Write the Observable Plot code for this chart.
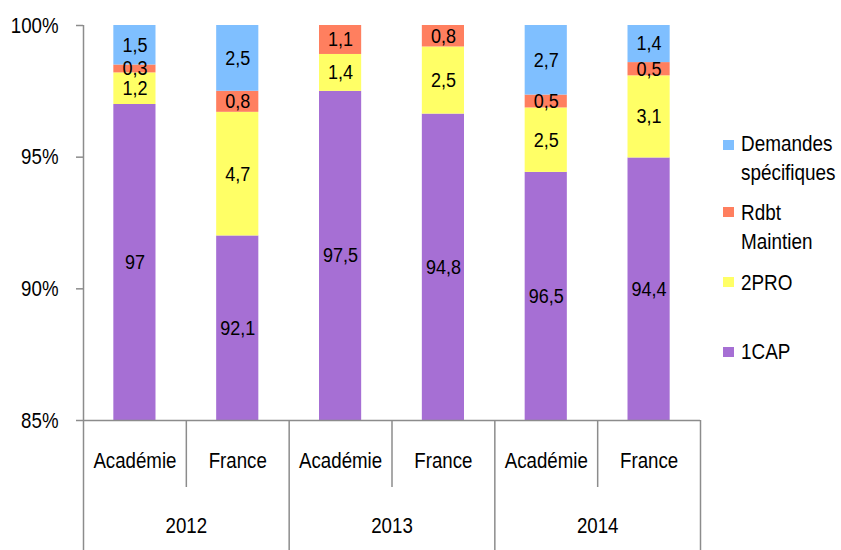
<!DOCTYPE html>
<html><head><meta charset="utf-8">
<script src="https://cdn.jsdelivr.net/npm/d3@7"></script>
<script src="https://cdn.jsdelivr.net/npm/@observablehq/plot@0.6"></script>
<style>
body{margin:0;background:#fff;font-family:"Liberation Sans",Arial,sans-serif;}
#wrap{position:relative;width:841px;height:550px;overflow:hidden;}
.lg{position:absolute;font-size:22.5px;line-height:29px;color:#000;white-space:nowrap;transform:scaleX(0.84);transform-origin:0 0;}
.sw{position:absolute;width:11px;height:10px;}
</style></head><body><div id="wrap"></div>
<script>
// ---- data ----
const years = ["2012", "2013", "2014"];
const places = ["Académie", "France"];
const series = ["1CAP", "2PRO", "Rdbt Maintien", "Demandes spécifiques"];
const legendLabels = ["Demandes<br>spécifiques", "Rdbt<br>Maintien", "2PRO", "1CAP"];
const colors = ["#A66FD4", "#FFFF66", "#FF7F5F", "#7FBFFF"];
// values per bar: 2012 Académie, 2012 France, 2013 Académie, 2013 France, 2014 Académie, 2014 France
const cap  = [97, 92.1, 97.5, 94.8, 96.5, 94.4];
const pro  = [1.2, 4.7, 1.4, 2.5, 2.5, 3.1];
const rdbt = [0.3, 0.8, 1.1, 0.8, 0.5, 0.5];
const dem  = [1.5, 2.5, 0, 0, 2.7, 1.4];
const yTicks = [0.85, 0.90, 0.95, 1.00];

// ---- layout ----
const W = 841, H = 550, mL = 83, mR = 141, mT = 25, mB = 130;
const yMin = 0.85, yMax = 1;
const pxToY = px => yMax - (px - mT) / (H - mT - mB) * (yMax - yMin);
const pxToX = px => (px - mL) / (W - mL - mR) * 6;
const fmt = v => String(v).replace(".", ",");
const FS = 22.5, FSL = 20;

// ---- build tables (100% stacked) ----
const seriesVals = [cap, pro, rdbt, dem];
const bars = [];
const segments = [];
years.forEach((yr, yi) => places.forEach((pl, pi) => {
  const i = yi * 2 + pi;
  bars.push({i, year: yr, place: pl});
  const total = d3.sum(seriesVals, s => s[i]);
  let c = 0;
  seriesVals.forEach((s, si) => {
    const v = s[i];
    if (v > 0) {
      segments.push({i, series: series[si], value: v, y1: c / total, y2: (c + v) / total});
    }
    c += v;
  });
}));

const grey = "#8c8c8c";
const plot = Plot.plot({
  width: W, height: H,
  marginLeft: mL, marginRight: mR, marginTop: mT, marginBottom: mB,
  style: {fontFamily: "'Liberation Sans', Arial, sans-serif", fontSize: FS + "px", background: "#fff", color: "#000"},
  x: {domain: [0, 6], axis: null},
  y: {domain: [yMin, yMax], axis: null},
  color: {domain: series, range: colors},
  marks: [
    Plot.rect(segments, {x1: d => d.i + 0.295, x2: d => d.i + 0.705, y1: "y1", y2: "y2", fill: "series", clip: true}),
    Plot.text(segments, {
      x: d => d.i + 0.5,
      y: d => (Math.max(d.y1, yMin) + d.y2) / 2,
      text: d => fmt(d.value), fontSize: FSL, fill: "#000"
    }),
    // y axis
    Plot.ruleX([0], {y1: yMin, y2: yMax, stroke: grey, strokeWidth: 1.5}),
    Plot.ruleY(yTicks, {x1: pxToX(76), x2: 0, stroke: grey, strokeWidth: 1.5}),
    Plot.text(yTicks, {x: 0, y: d => d, text: d => d3.format(".0%")(d), textAnchor: "end", dx: -25, fontSize: FS, fill: "#000"}),
    // x axis table
    Plot.ruleY([yMin], {x1: 0, x2: 6, stroke: grey, strokeWidth: 1.5}),
    Plot.ruleX([1, 3, 5], {y1: yMin, y2: pxToY(487), stroke: grey, strokeWidth: 1.5}),
    Plot.ruleX([0, 2, 4, 6], {y1: yMin, y2: pxToY(551), stroke: grey, strokeWidth: 1.5}),
    Plot.text(bars, {x: d => d.i + 0.5, y: pxToY(460), text: "place", fontSize: FS, fill: "#000"}),
    Plot.text(years, {x: (d, j) => 2 * j + 1, y: pxToY(525), text: d => d, fontSize: FS, fill: "#000"})
  ]
});
const wrap = document.getElementById("wrap");
wrap.appendChild(plot);

// condense the Arial-like glyphs horizontally, as in the reference
plot.querySelectorAll("text").forEach(t => {
  const len = t.getComputedTextLength();
  if (!len) return;
  const fs = parseFloat(getComputedStyle(t).fontSize);
  const k = fs < 21 ? 0.9 : 0.83;
  t.setAttribute("textLength", (len * k).toFixed(2));
  t.setAttribute("lengthAdjust", "spacingAndGlyphs");
});

// legend
const legendPos = [
  {sq: 140, tx: 129},
  {sq: 207, tx: 198},
  {sq: 277, tx: 268},
  {sq: 347, tx: 337}
];
legendLabels.forEach((lab, k) => {
  const col = colors[3 - k];
  const sw = document.createElement("div");
  sw.className = "sw";
  sw.style.left = "723px"; sw.style.top = legendPos[k].sq + "px"; sw.style.background = col;
  wrap.appendChild(sw);
  const t = document.createElement("div");
  t.className = "lg";
  t.style.left = "741px"; t.style.top = legendPos[k].tx + "px";
  t.innerHTML = lab;
  wrap.appendChild(t);
});
</script></body></html>
